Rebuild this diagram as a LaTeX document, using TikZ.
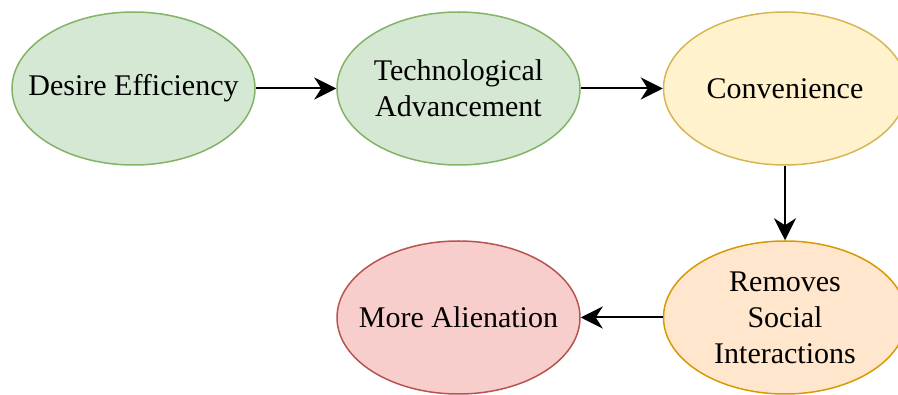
\documentclass[tikz,border=0pt]{standalone}
\usepackage{fontspec}
\setmainfont{Liberation Serif}
\usetikzlibrary{shapes.geometric, arrows.meta, positioning}
\definecolor{greenfill}{HTML}{D5E8D4}
\definecolor{greenline}{HTML}{82B366}
\definecolor{yellowfill}{HTML}{FFF2CC}
\definecolor{yellowline}{HTML}{D6B656}
\definecolor{orangefill}{HTML}{FFE6CC}
\definecolor{orangeline}{HTML}{D79B00}
\definecolor{redfill}{HTML}{F8CECC}
\definecolor{redline}{HTML}{B85450}
\tikzset{
    stage/.style={ellipse, draw, line width=1.5pt, inner xsep=-40pt, inner ysep=0pt, minimum width=243pt, minimum height=153pt, align=center, font=\fontsize{30}{36}\selectfont},
    greenstage/.style={stage, fill=greenfill, draw=greenline},
    yellowstage/.style={stage, fill=yellowfill, draw=yellowline},
    orangestage/.style={stage, fill=orangefill, draw=orangeline},
    redstage/.style={stage, fill=redfill, draw=redline},
    arrow/.style={line width=2pt, -{Stealth[length=22pt, width=22pt, inset=7pt]}}
}
\begin{document}
\begin{tikzpicture}[x=1pt, y=-1pt]
        \useasboundingbox (0, 0) rectangle (898, 395);
        \begin{scope}
        \clip (0, 0) rectangle (898, 395);
        \node[greenstage] (DE) at (133.5, 88.5) {Desire Efficiency};
        \node[greenstage] (TA) at (458.5, 88.5) {Technological\\Advancement};
        \node[yellowstage] (CV) at (785, 88.5) {Convenience};
        \node[orangestage] (RS) at (785, 317.5) {Removes\\Social\\Interactions};
        \node[redstage] (MA) at (458.5, 317.5) {More Alienation};

        % flow between the stages
        \draw[arrow] (DE) -- (TA);
        \draw[arrow] (TA) -- (CV);
        \draw[arrow] (CV) -- (RS);
        \draw[arrow] (RS) -- (MA);
        \end{scope}
    \end{tikzpicture}
\end{document}
